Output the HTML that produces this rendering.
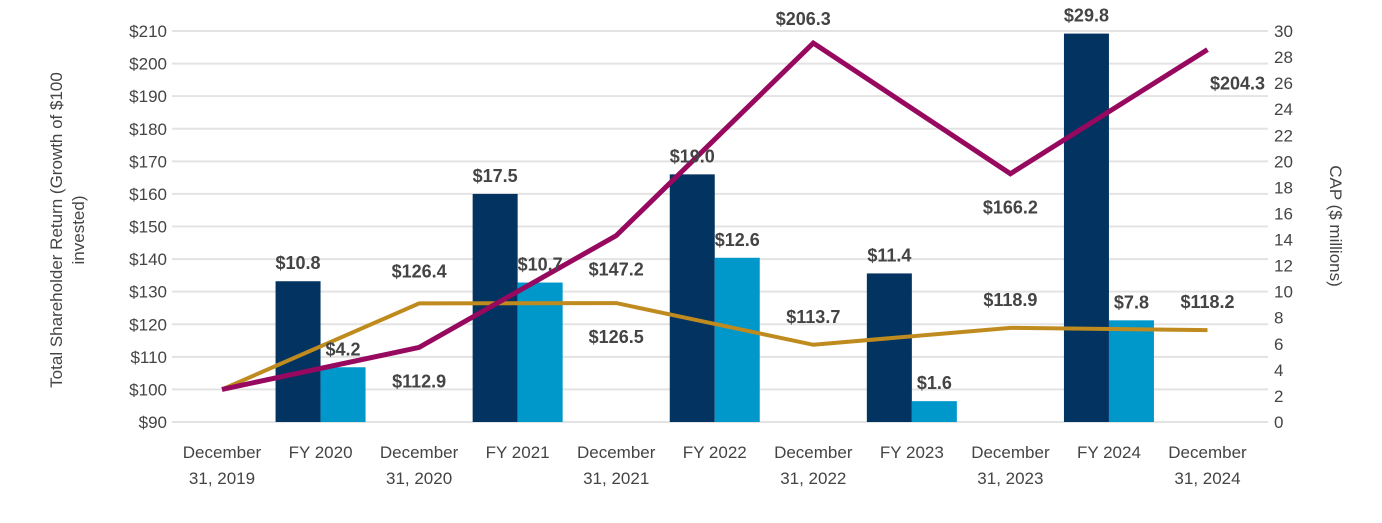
<!DOCTYPE html>
<html><head><meta charset="utf-8"><style>
body{margin:0;background:#fff;}
svg text{font-family:"Liberation Sans",sans-serif;}
</style></head><body>
<svg id="chart" width="1382" height="518" xmlns="http://www.w3.org/2000/svg">
<g id="grid"></g><g id="bars"></g><g id="lines"></g><g id="labels"></g><g id="axes"></g>
<text transform="translate(70,230) rotate(-90)" text-anchor="middle" font-size="17" fill="#444"><tspan x="0" dy="-8">Total Shareholder Return (Growth of $100</tspan><tspan x="0" dy="22">invested)</tspan></text>
<text transform="translate(1330,226) rotate(90)" text-anchor="middle" font-size="17" fill="#444">CAP ($ millions)</text>
</svg>
<script>
const categories=["December|31, 2019","FY 2020","December|31, 2020","FY 2021","December|31, 2021","FY 2022","December|31, 2022","FY 2023","December|31, 2023","FY 2024","December|31, 2024"];
const capSummary=[10.8,17.5,19.0,11.4,29.8];
const capActual=[4.2,10.7,12.6,1.6,7.8];
const companyTSR=[100,112.9,147.2,206.3,166.2,204.3];
const peerTSR=[100,126.4,126.5,113.7,118.9,118.2];
const leftTicks=[90,100,110,120,130,140,150,160,170,180,190,200,210];
const rightTicks=[0,2,4,6,8,10,12,14,16,18,20,22,24,26,28,30];
const NS="http://www.w3.org/2000/svg";
const yL=v=>422-(v-90)*(391/120);
const yR=v=>422-v*(391/30);
const xC=i=>222+98.55*i;
function mk(t,a,p){const e=document.createElementNS(NS,t);for(const k in a)e.setAttribute(k,a[k]);document.getElementById(p).appendChild(e);return e;}
leftTicks.forEach(v=>{
 const g=mk('line',{x1:172,x2:1268,y1:yL(v),y2:yL(v),stroke:'#e3e3e3','stroke-width':2},'grid');
 
 
 const t=mk('text',{x:167,y:yL(v)+6,'text-anchor':'end','font-size':17,fill:'#444'},'axes');
 t.textContent='$'+v;
 
 
});
rightTicks.forEach(v=>{
 const t=mk('text',{x:1274,y:yR(v)+6,'font-size':17,fill:'#444'},'axes');
 t.textContent=v;
 
 
});
categories.forEach((c,i)=>{
 const parts=c.split('|');
 parts.forEach((p,j)=>{
  const t=mk('text',{x:xC(i),y:458+j*26,'text-anchor':'middle','font-size':17,fill:'#444'},'axes');
  t.textContent=p;
  
  
 });
});
const bw=45;
capSummary.forEach((v,k)=>{
 const cx=xC(2*k+1);
 const r=mk('rect',{x:cx-bw,y:yR(v),width:bw,height:422-yR(v),fill:'#023361'},'bars');
 
 
 const t=mk('text',{x:cx-bw/2,y:yR(v)-12,'text-anchor':'middle','font-size':18,'font-weight':'bold',fill:'#444'},'labels');
 t.textContent='$'+v.toFixed(1);
 
 
});
capActual.forEach((v,k)=>{
 const cx=xC(2*k+1);
 const r=mk('rect',{x:cx,y:yR(v),width:bw,height:422-yR(v),fill:'#0097cb'},'bars');
 
 
 const t=mk('text',{x:cx+bw/2,y:yR(v)-12,'text-anchor':'middle','font-size':18,'font-weight':'bold',fill:'#444'},'labels');
 t.textContent='$'+v.toFixed(1);
 
 
});
function line(arr,color,w,name){
 const pts=arr.map((v,i)=>xC(2*i)+','+yL(v)).join(' ');
 const p=mk('polyline',{points:pts,fill:'none',stroke:color,'stroke-width':w},'lines');
 
 
}
line(peerTSR,'#c08b1e',4,'peer-tsr-line');
line(companyTSR,'#97085f',5,'company-tsr-line');
const cOff=[null,[0,40],[0,40],[-10,-18],[0,40],[30,40]];
const pOff=[null,[0,-26],[0,40],[0,-22],[0,-22],[0,-22]];
companyTSR.forEach((v,i)=>{
 if(!cOff[i])return;
 const t=mk('text',{x:xC(2*i)+cOff[i][0],y:yL(v)+cOff[i][1],'text-anchor':'middle','font-size':18,'font-weight':'bold',fill:'#444'},'labels');
 t.textContent='$'+v.toFixed(1);
 
 
});
peerTSR.forEach((v,i)=>{
 if(!pOff[i])return;
 const t=mk('text',{x:xC(2*i)+pOff[i][0],y:yL(v)+pOff[i][1],'text-anchor':'middle','font-size':18,'font-weight':'bold',fill:'#444'},'labels');
 t.textContent='$'+v.toFixed(1);
 
 
});
</script>
</body></html>
